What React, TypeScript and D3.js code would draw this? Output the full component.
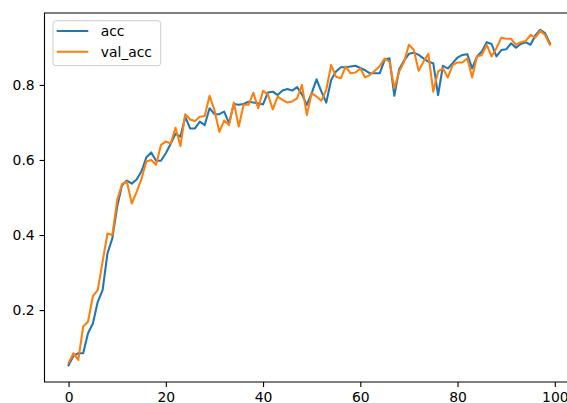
import React, { useRef, useEffect } from "react";
import * as d3 from "d3";

// training history
const acc = [
  0.053, 0.078, 0.085, 0.085, 0.138, 0.164, 0.222, 0.253, 0.351, 0.391,
  0.476, 0.533, 0.545, 0.537, 0.548, 0.57, 0.607, 0.62, 0.598, 0.598,
  0.618, 0.643, 0.67, 0.662, 0.715, 0.684, 0.684, 0.702, 0.693, 0.738,
  0.722, 0.722, 0.729, 0.698, 0.749, 0.747, 0.749, 0.755, 0.753, 0.751,
  0.748, 0.78, 0.782, 0.773, 0.785, 0.789, 0.785, 0.794, 0.775, 0.747,
  0.778, 0.815, 0.782, 0.753, 0.813, 0.836, 0.847, 0.847, 0.849, 0.851,
  0.845, 0.839, 0.831, 0.831, 0.831, 0.867, 0.871, 0.771, 0.842, 0.865,
  0.883, 0.886, 0.88, 0.871, 0.862, 0.858, 0.773, 0.851, 0.844, 0.858,
  0.873, 0.88, 0.882, 0.844, 0.876, 0.889, 0.914, 0.909, 0.876, 0.893,
  0.895, 0.911, 0.899, 0.909, 0.914, 0.907, 0.932, 0.947, 0.938, 0.911,
];

const valAcc = [
  0.059, 0.085, 0.067, 0.156, 0.169, 0.237, 0.253, 0.329, 0.404, 0.4,
  0.493, 0.536, 0.542, 0.484, 0.515, 0.55, 0.596, 0.6, 0.587, 0.64,
  0.649, 0.644, 0.686, 0.637, 0.722, 0.708, 0.704, 0.715, 0.717, 0.771,
  0.733, 0.675, 0.705, 0.693, 0.753, 0.689, 0.747, 0.747, 0.779, 0.738,
  0.784, 0.775, 0.735, 0.769, 0.76, 0.753, 0.756, 0.764, 0.8, 0.72,
  0.778, 0.769, 0.758, 0.787, 0.853, 0.822, 0.818, 0.849, 0.831, 0.833,
  0.844, 0.82, 0.827, 0.838, 0.85, 0.87, 0.862, 0.791, 0.836, 0.862,
  0.907, 0.893, 0.838, 0.862, 0.883, 0.782, 0.836, 0.844, 0.82, 0.853,
  0.86, 0.86, 0.871, 0.82, 0.876, 0.88, 0.907, 0.876, 0.898, 0.926,
  0.923, 0.923, 0.907, 0.914, 0.917, 0.933, 0.926, 0.944, 0.933, 0.907,
];

const seriesNames = ["acc", "val_acc"];
const seriesColors = ["#1f77b4", "#ff7f0e"];
const xTicks = [0, 20, 40, 60, 80, 100];
const yTicks = [0.2, 0.4, 0.6, 0.8];

const App = () => {
  const d3Container = useRef<SVGSVGElement | null>(null);
  const width = 567;
  const height = 403;

  useEffect(() => {
    if (!d3Container.current) return;
    const svg = d3.select(d3Container.current);
    svg.selectAll("*").remove();

    const font = "'DejaVu Sans', sans-serif";
    const fontSize = 13.9;

    // axes box (right spine falls just outside the picture)
    const left = 44.5;
    const right = 574;
    const top = 13;
    const bottom = 382;

    const n = acc.length;
    // matplotlib style 5% margins
    const xPad = (n - 1) * 0.05;
    const xScale = d3
      .scaleLinear()
      .domain([-xPad, n - 1 + xPad])
      .range([left, right]);

    const all = acc.concat(valAcc);
    const yMin = d3.min(all) as number;
    const yMax = d3.max(all) as number;
    const yPad = (yMax - yMin) * 0.05;
    const yScale = d3
      .scaleLinear()
      .domain([yMin - yPad, yMax + yPad])
      .range([bottom, top]);

    // lines
    const line = d3
      .line<number>()
      .x((d, i) => xScale(i))
      .y((d) => yScale(d));

    [acc, valAcc].forEach((s, k) => {
      svg
        .append("path")
        .datum(s)
        .attr("d", line)
        .attr("fill", "none")
        .attr("stroke", seriesColors[k])
        .attr("stroke-width", 2.08)
        .attr("stroke-linejoin", "round")
        .attr("stroke-linecap", "square");
    });

    // spines
    svg
      .append("path")
      .attr("d", `M${right},${top}H${left}V${bottom}H${right}`)
      .attr("fill", "none")
      .attr("stroke", "#000")
      .attr("stroke-width", 1.1);

    // x axis
    const xAxis = d3
      .axisBottom(xScale)
      .tickValues(xTicks)
      .tickSize(4.9)
      .tickPadding(4.9)
      .tickFormat(d3.format("d"));
    const gx = svg
      .append("g")
      .attr("transform", `translate(0,${bottom})`)
      .call(xAxis);
    gx.select(".domain").remove();

    // y axis
    const yAxis = d3
      .axisLeft(yScale)
      .tickValues(yTicks)
      .tickSize(4.9)
      .tickPadding(4.9)
      .tickFormat(d3.format(".1f"));
    const gy = svg
      .append("g")
      .attr("transform", `translate(${left},0)`)
      .call(yAxis);
    gy.select(".domain").remove();

    [gx, gy].forEach((g) => {
      g.selectAll(".tick line").attr("stroke", "#000").attr("stroke-width", 1.1);
      g.selectAll(".tick text")
        .attr("fill", "#000")
        .style("font-family", font)
        .style("font-size", fontSize + "px");
    });

    // legend
    const legend = svg.append("g");
    legend
      .append("rect")
      .attr("x", 53)
      .attr("y", 20.7)
      .attr("width", 107.7)
      .attr("height", 45)
      .attr("rx", 3)
      .attr("fill", "#fff")
      .attr("fill-opacity", 0.8)
      .attr("stroke", "#cccccc")
      .attr("stroke-width", 1);

    seriesNames.forEach((name, k) => {
      const ly = 31 + k * 20.7;
      legend
        .append("line")
        .attr("x1", 56.7)
        .attr("x2", 88.3)
        .attr("y1", ly)
        .attr("y2", ly)
        .attr("stroke", seriesColors[k])
        .attr("stroke-width", 2.08);
      legend
        .append("text")
        .attr("x", 100.7)
        .attr("y", ly)
        .attr("dy", "0.35em")
        .attr("fill", "#000")
        .style("font-family", font)
        .style("font-size", fontSize + "px")
        .text(name);
    });
  }, []);

  return (
    <svg
      ref={d3Container}
      width={width}
      height={height}
      style={{ position: "absolute", left: 0, top: 0, background: "#fff" }}
    />
  );
};

export default App;
